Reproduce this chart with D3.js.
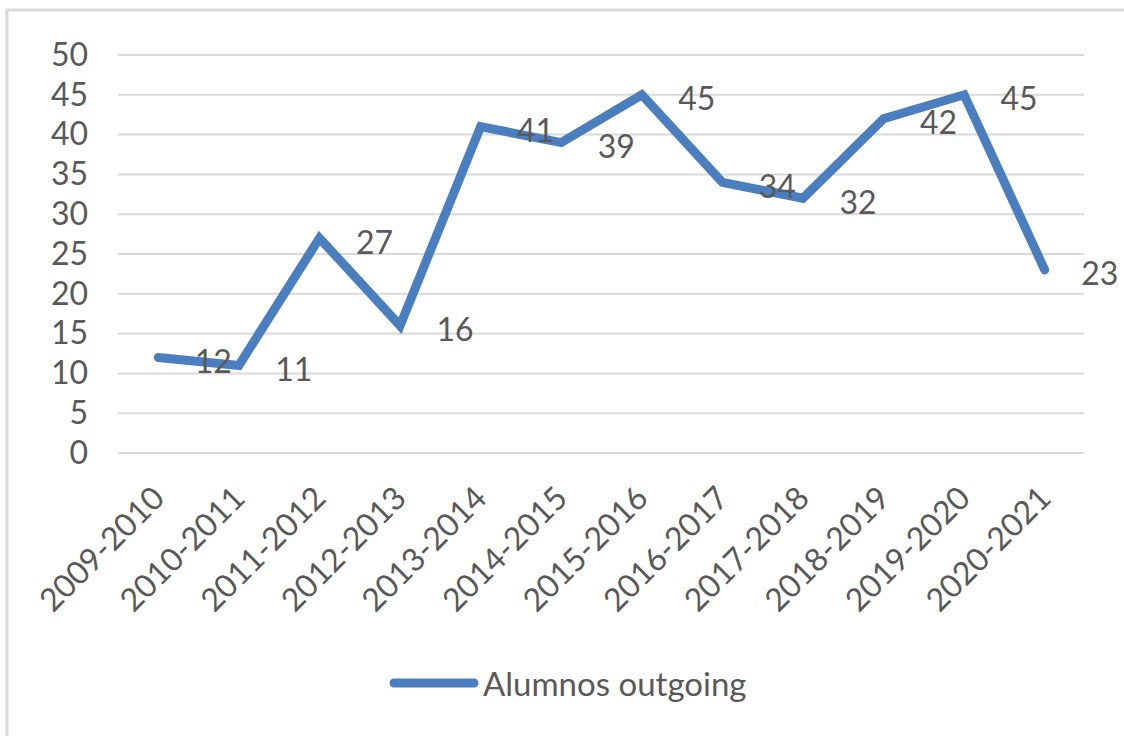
<!DOCTYPE html>
<html>
<head>
<meta charset="utf-8">
<script src="https://cdn.jsdelivr.net/npm/d3@7"></script>
<style>
html,body{margin:0;padding:0;background:#fff;}
text{font-family:Lato, "Liberation Sans", sans-serif;fill:#595959;}
</style>
</head>
<body>
<svg id="chart" width="1124" height="736"></svg>
<script>
const categories = ["2009-2010","2010-2011","2011-2012","2012-2013","2013-2014","2014-2015","2015-2016","2016-2017","2017-2018","2018-2019","2019-2020","2020-2021"];
const values = [12,11,27,16,41,39,45,34,32,42,45,23];
const yTicks = [0,5,10,15,20,25,30,35,40,45,50];
const seriesName = "Alumnos outgoing";

const svg = d3.select("#chart");
const fontSize = 32;

svg.append("rect").attr("x",7).attr("y",10).attr("width",1140).attr("height",760)
  .attr("fill","none").attr("stroke","#d9d9d9").attr("stroke-width",3);

const x = d3.scaleBand().domain(categories).range([118,1085]);
const y = d3.scaleLinear().domain([0,50]).range([453,55]);

// gridlines
svg.append("g").selectAll("line").data(yTicks).join("line")
  .attr("x1",118).attr("x2",1084)
  .attr("y1",d=>y(d)).attr("y2",d=>y(d))
  .attr("stroke","#d9d9d9").attr("stroke-width",2);

// y axis labels
const yAxis = d3.axisLeft(y).tickValues(yTicks).tickSize(0).tickPadding(0);
const gy = svg.append("g").attr("transform","translate(88,0)").call(yAxis);
gy.select(".domain").remove();
gy.selectAll("text").attr("font-size",fontSize).attr("fill","#595959")
  .style("font-family","Lato, 'Liberation Sans', sans-serif");

// x axis labels
const xAxis = d3.axisBottom(x).tickSize(0).tickPadding(0);
const gx = svg.append("g").attr("transform","translate(0,453)").call(xAxis);
gx.select(".domain").remove();
gx.selectAll("text").attr("font-size",fontSize).attr("fill","#595959")
  .style("font-family","Lato, 'Liberation Sans', sans-serif")
  .attr("text-anchor","end").attr("dy",null).attr("y",0)
  .attr("transform","translate(-10,29) rotate(-45)")
  .attr("dominant-baseline","hanging");

const cx = d => x(d) + x.bandwidth()/2;

// line
const line = d3.line().x((d,i)=>cx(categories[i])).y(d=>y(d));
svg.append("path").datum(values).attr("d",line)
  .attr("fill","none").attr("stroke","#4a7ebf").attr("stroke-width",9)
  .attr("stroke-linejoin","miter").attr("stroke-linecap","round");

// data labels
svg.append("g").selectAll("text").data(values).join("text")
  .attr("x",(d,i)=>cx(categories[i])+55)
  .attr("y",(d)=>y(d)+3)
  .attr("text-anchor","middle").attr("dominant-baseline","central")
  .attr("font-size",fontSize).text(d=>d);

// legend
svg.append("line").attr("x1",394).attr("x2",474).attr("y1",683).attr("y2",683)
  .attr("stroke","#4a7ebf").attr("stroke-width",9).attr("stroke-linecap","round");
svg.append("text").attr("x",483).attr("y",683).attr("dominant-baseline","central")
  .attr("font-size",33).text(seriesName);
</script>
</body>
</html>
